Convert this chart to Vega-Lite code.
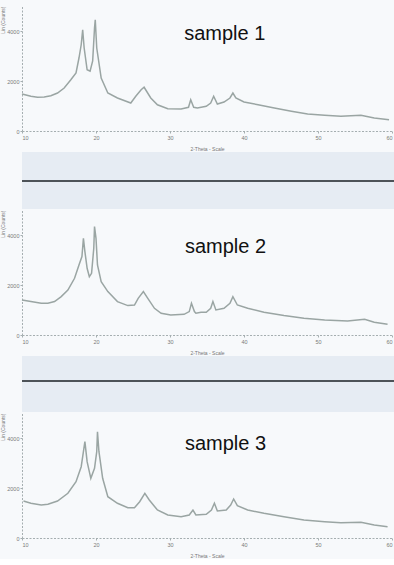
{
  "$schema": "https://vega.github.io/schema/vega-lite/v6.json",
  "background": "#f7f9fb",
  "padding": {"left": 0, "top": 5, "right": 0, "bottom": 0},
  "spacing": 0,
  "config": {
    "view": {"stroke": null},
    "font": "Liberation Sans",
    "axis": {
      "grid": false,
      "labelFontSize": 5.5,
      "labelColor": "#7a7a7a",
      "labelOverlap": false,
      "labelBound": false,
      "format": "d",
      "titleFontSize": 5,
      "titleFontWeight": "normal",
      "titleColor": "#777",
      "domainColor": "#a5aeb0",
      "domainDash": [2, 1.5],
      "tickColor": "#a5aeb0",
      "tickSize": 2,
      "labelPadding": 2
    },
    "axisX": {"titlePadding": 6},
    "axisY": {"titlePadding": 1, "labelPadding": 1}
  },
  "datasets": {
    "s1": [
      {"theta": 10.0, "counts": 1480}, {"theta": 11.2, "counts": 1390}, {"theta": 12.1, "counts": 1350},
      {"theta": 13.0, "counts": 1360}, {"theta": 13.9, "counts": 1410}, {"theta": 14.8, "counts": 1520},
      {"theta": 15.7, "counts": 1720}, {"theta": 16.6, "counts": 2050}, {"theta": 17.3, "counts": 2320},
      {"theta": 17.7, "counts": 2920}, {"theta": 18.0, "counts": 3450}, {"theta": 18.2, "counts": 4050},
      {"theta": 18.4, "counts": 3320}, {"theta": 18.8, "counts": 2450}, {"theta": 19.2, "counts": 2390},
      {"theta": 19.55, "counts": 2800}, {"theta": 19.8, "counts": 4120}, {"theta": 19.9, "counts": 4450},
      {"theta": 20.1, "counts": 3320}, {"theta": 20.7, "counts": 2120}, {"theta": 21.6, "counts": 1520},
      {"theta": 22.9, "counts": 1320}, {"theta": 24.7, "counts": 1120}, {"theta": 25.4, "counts": 1400},
      {"theta": 26.1, "counts": 1650}, {"theta": 26.5, "counts": 1750}, {"theta": 27.4, "counts": 1320},
      {"theta": 28.3, "counts": 1050}, {"theta": 29.7, "counts": 890}, {"theta": 31.5, "counts": 880},
      {"theta": 32.5, "counts": 950}, {"theta": 32.8, "counts": 1250}, {"theta": 33.2, "counts": 950},
      {"theta": 33.7, "counts": 920}, {"theta": 34.9, "counts": 990}, {"theta": 35.5, "counts": 1120},
      {"theta": 35.9, "counts": 1390}, {"theta": 36.4, "counts": 1080}, {"theta": 37.3, "counts": 1160},
      {"theta": 38.1, "counts": 1320}, {"theta": 38.5, "counts": 1520}, {"theta": 38.9, "counts": 1320},
      {"theta": 40.0, "counts": 1160}, {"theta": 41.9, "counts": 1050}, {"theta": 44.1, "counts": 920},
      {"theta": 46.4, "counts": 790}, {"theta": 48.6, "counts": 680}, {"theta": 50.9, "counts": 630},
      {"theta": 53.1, "counts": 590}, {"theta": 55.8, "counts": 630}, {"theta": 57.6, "counts": 520},
      {"theta": 59.6, "counts": 450}
    ],
    "s2": [
      {"theta": 10.0, "counts": 1400}, {"theta": 11.2, "counts": 1336}, {"theta": 12.6, "counts": 1268},
      {"theta": 13.5, "counts": 1268}, {"theta": 14.4, "counts": 1336}, {"theta": 15.3, "counts": 1536},
      {"theta": 16.2, "counts": 1800}, {"theta": 17.1, "counts": 2268}, {"theta": 17.7, "counts": 2800},
      {"theta": 18.1, "counts": 3136}, {"theta": 18.3, "counts": 3868}, {"theta": 18.5, "counts": 3336},
      {"theta": 18.8, "counts": 2668}, {"theta": 19.1, "counts": 2336}, {"theta": 19.4, "counts": 2468},
      {"theta": 19.7, "counts": 3468}, {"theta": 19.8, "counts": 4336}, {"theta": 20.0, "counts": 3868},
      {"theta": 20.2, "counts": 2800}, {"theta": 20.7, "counts": 2136}, {"theta": 21.6, "counts": 1736},
      {"theta": 22.9, "counts": 1336}, {"theta": 24.3, "counts": 1176}, {"theta": 25.2, "counts": 1200},
      {"theta": 25.7, "counts": 1468}, {"theta": 26.4, "counts": 1736}, {"theta": 27.0, "counts": 1468},
      {"theta": 27.9, "counts": 1068}, {"theta": 28.8, "counts": 868}, {"theta": 30.1, "counts": 800},
      {"theta": 31.9, "counts": 828}, {"theta": 32.6, "counts": 936}, {"theta": 32.9, "counts": 1268},
      {"theta": 33.3, "counts": 936}, {"theta": 33.5, "counts": 868}, {"theta": 34.2, "counts": 908},
      {"theta": 34.9, "counts": 908}, {"theta": 35.5, "counts": 1068}, {"theta": 35.8, "counts": 1336},
      {"theta": 36.2, "counts": 1000}, {"theta": 37.3, "counts": 1068}, {"theta": 38.1, "counts": 1268},
      {"theta": 38.5, "counts": 1536}, {"theta": 39.1, "counts": 1200}, {"theta": 40.5, "counts": 1068},
      {"theta": 42.7, "counts": 908}, {"theta": 45.4, "counts": 776}, {"theta": 48.1, "counts": 668},
      {"theta": 50.9, "counts": 600}, {"theta": 54.0, "counts": 560}, {"theta": 56.3, "counts": 628},
      {"theta": 57.6, "counts": 508}, {"theta": 59.4, "counts": 428}
    ],
    "s3": [
      {"theta": 10.2, "counts": 1480}, {"theta": 11.2, "counts": 1388}, {"theta": 12.6, "counts": 1320},
      {"theta": 13.5, "counts": 1348}, {"theta": 14.8, "counts": 1480}, {"theta": 16.2, "counts": 1788},
      {"theta": 17.3, "counts": 2252}, {"theta": 18.0, "counts": 2852}, {"theta": 18.3, "counts": 3452},
      {"theta": 18.5, "counts": 3852}, {"theta": 18.8, "counts": 3052}, {"theta": 19.3, "counts": 2388},
      {"theta": 19.8, "counts": 2788}, {"theta": 20.1, "counts": 3452}, {"theta": 20.2, "counts": 4252},
      {"theta": 20.4, "counts": 3452}, {"theta": 20.9, "counts": 2388}, {"theta": 21.6, "counts": 1652},
      {"theta": 22.9, "counts": 1388}, {"theta": 24.3, "counts": 1212}, {"theta": 25.2, "counts": 1212},
      {"theta": 25.9, "counts": 1452}, {"theta": 26.6, "counts": 1788}, {"theta": 27.2, "counts": 1520},
      {"theta": 28.3, "counts": 1120}, {"theta": 29.7, "counts": 920}, {"theta": 31.5, "counts": 852},
      {"theta": 32.6, "counts": 920}, {"theta": 33.1, "counts": 1120}, {"theta": 33.5, "counts": 920},
      {"theta": 34.9, "counts": 948}, {"theta": 35.6, "counts": 1120}, {"theta": 36.0, "counts": 1388},
      {"theta": 36.4, "counts": 1080}, {"theta": 37.6, "counts": 1120}, {"theta": 38.2, "counts": 1320},
      {"theta": 38.6, "counts": 1560}, {"theta": 39.1, "counts": 1292}, {"theta": 40.5, "counts": 1120},
      {"theta": 42.7, "counts": 988}, {"theta": 45.4, "counts": 852}, {"theta": 48.1, "counts": 720},
      {"theta": 50.9, "counts": 652}, {"theta": 53.1, "counts": 612}, {"theta": 55.8, "counts": 628},
      {"theta": 57.6, "counts": 520}, {"theta": 59.4, "counts": 452}
    ]
  },
  "vconcat": [
    {
      "width": 370, "height": 125,
      "layer": [
        {
          "data": {"name": "s1"},
          "mark": {"type": "line", "color": "#9aa5a3", "strokeWidth": 1.5},
          "encoding": {
            "x": {"field": "theta", "type": "quantitative", "scale": {"domain": [10, 60], "nice": false}, "axis": {"values": [10, 20, 30, 40, 50, 60], "title": "2-Theta - Scale", "labelOverlap": false}},
            "y": {"field": "counts", "type": "quantitative", "scale": {"domain": [0, 5000], "nice": false}, "axis": {"values": [0, 1000, 2000, 3000, 4000, 5000], "title": "Lin (Counts)", "titleAnchor": "end", "labelOverlap": false}}
          }
        },
        {
          "data": {"values": [{"theta": 37.4, "counts": 3880, "label": "sample 1"}]},
          "mark": {"type": "text", "fontSize": 20, "font": "Liberation Sans", "color": "#111", "align": "center", "baseline": "middle"},
          "encoding": {
            "x": {"field": "theta", "type": "quantitative"},
            "y": {"field": "counts", "type": "quantitative"},
            "text": {"field": "label"}
          }
        }
      ]
    },
    {
      "width": 394, "height": 57,
      "view": {"fill": "#e6ecf3", "stroke": null},
      "data": {"values": [{"pos": 0.49}]},
      "mark": {"type": "rule", "color": "#4d5358", "strokeWidth": 2},
      "encoding": {
        "y": {"field": "pos", "type": "quantitative", "scale": {"domain": [0, 1]}, "axis": null}
      }
    },
    {
      "width": 370, "height": 125,
      "layer": [
        {
          "data": {"name": "s2"},
          "mark": {"type": "line", "color": "#9aa5a3", "strokeWidth": 1.5},
          "encoding": {
            "x": {"field": "theta", "type": "quantitative", "scale": {"domain": [10, 60], "nice": false}, "axis": {"values": [10, 20, 30, 40, 50, 60], "title": "2-Theta - Scale", "labelOverlap": false}},
            "y": {"field": "counts", "type": "quantitative", "scale": {"domain": [0, 5000], "nice": false}, "axis": {"values": [0, 1000, 2000, 3000, 4000, 5000], "title": "Lin (Counts)", "titleAnchor": "end", "labelOverlap": false}}
          }
        },
        {
          "data": {"values": [{"theta": 37.5, "counts": 3508, "label": "sample 2"}]},
          "mark": {"type": "text", "fontSize": 20, "font": "Liberation Sans", "color": "#111", "align": "center", "baseline": "middle"},
          "encoding": {
            "x": {"field": "theta", "type": "quantitative"},
            "y": {"field": "counts", "type": "quantitative"},
            "text": {"field": "label"}
          }
        }
      ]
    },
    {
      "width": 394, "height": 56,
      "view": {"fill": "#e6ecf3", "stroke": null},
      "data": {"values": [{"pos": 0.554}]},
      "mark": {"type": "rule", "color": "#4d5358", "strokeWidth": 2},
      "encoding": {
        "y": {"field": "pos", "type": "quantitative", "scale": {"domain": [0, 1]}, "axis": null}
      }
    },
    {
      "width": 370, "height": 125,
      "layer": [
        {
          "data": {"name": "s3"},
          "mark": {"type": "line", "color": "#9aa5a3", "strokeWidth": 1.5},
          "encoding": {
            "x": {"field": "theta", "type": "quantitative", "scale": {"domain": [10, 60], "nice": false}, "axis": {"values": [10, 20, 30, 40, 50, 60], "title": "2-Theta - Scale", "labelOverlap": false}},
            "y": {"field": "counts", "type": "quantitative", "scale": {"domain": [0, 5000], "nice": false}, "axis": {"values": [0, 1000, 2000, 3000, 4000, 5000], "title": "Lin (Counts)", "titleAnchor": "end", "labelOverlap": false}}
          }
        },
        {
          "data": {"values": [{"theta": 37.5, "counts": 3760, "label": "sample 3"}]},
          "mark": {"type": "text", "fontSize": 20, "font": "Liberation Sans", "color": "#111", "align": "center", "baseline": "middle"},
          "encoding": {
            "x": {"field": "theta", "type": "quantitative"},
            "y": {"field": "counts", "type": "quantitative"},
            "text": {"field": "label"}
          }
        }
      ]
    }
  ]
}
